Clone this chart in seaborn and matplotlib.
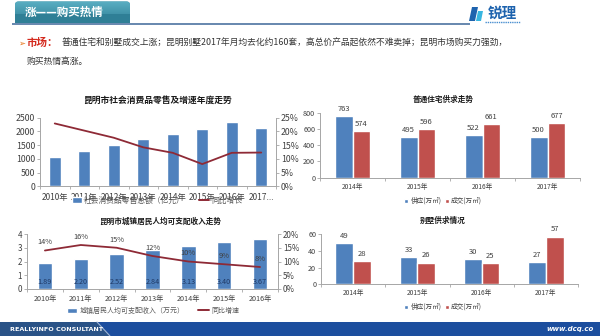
import numpy as np
import pandas as pd
import matplotlib
matplotlib.use("Agg")
import matplotlib.pyplot as plt
from matplotlib.patches import Rectangle, Polygon, FancyBboxPatch, Patch
from matplotlib.lines import Line2D
from matplotlib.ticker import FuncFormatter, FixedLocator
import seaborn as sns

sns.set_theme(style="white")
plt.rcParams['font.family'] = ['Noto Sans CJK SC', 'DejaVu Sans']
plt.rcParams['axes.unicode_minus'] = False

# ---- data ----
retail_years = ["2010年", "2011年", "2012年", "2013年", "2014年", "2015年", "2016年", "2017..."]
retail_total = [1057, 1275, 1494, 1713, 1917, 2077, 2332, 2114]      # 亿元
retail_growth = [22.9, 20.3, 17.7, 14.2, 12.2, 8.1, 12.2, 12.3]      # %

income_years = ["2010年", "2011年", "2012年", "2013年", "2014年", "2015年", "2016年"]
income_values = [1.89, 2.20, 2.52, 2.84, 3.13, 3.40, 3.67]          # 万元
income_growth = [14, 16, 15, 12, 10, 9, 8]                          # %

supply_years = ["2014年", "2015年", "2016年", "2017年"]
house_supply = [763, 495, 522, 500]
house_deal = [574, 596, 661, 677]
villa_supply = [49, 33, 30, 27]
villa_deal = [28, 26, 25, 57]
series_names = ["供应(万㎡)", "成交(万㎡)"]

BLUE = "#4F81BD"
RED = "#C0504D"
LINE = "#8E2A36"
SPINE = "#A6A6A6"
TICK = "#404040"

W, H = 600, 336
fig = plt.figure(figsize=(6, 3.36), dpi=100)
fig.patch.set_facecolor("white")


def axes_px(x0, y0, x1, y1, **kw):
    return fig.add_axes([x0 / W, 1 - y1 / H, (x1 - x0) / W, (y1 - y0) / H], **kw)


# ---- slide decoration layer (pixel coordinates) ----
deco = axes_px(0, 0, W, H, zorder=0)
deco.set_xlim(0, W)
deco.set_ylim(H, 0)
deco.axis("off")

# header tab with a soft vertical gradient
tab = FancyBboxPatch((15, 1.5), 115, 21.5, boxstyle="round,pad=0,rounding_size=3.5",
                     facecolor="#3A8CA2", edgecolor="none")
deco.add_patch(tab)
grad = np.linspace(0, 1, 64).reshape(-1, 1)
img = deco.imshow(grad, extent=(15, 130, 23, 1.5), cmap=matplotlib.colors.LinearSegmentedColormap.from_list(
    "tab", ["#5AAFC3", "#2F7F96"]), aspect="auto", zorder=1)
img.set_clip_path(tab)
deco.add_patch(Rectangle((15, 14), 115, 9, facecolor="#2F7F96", edgecolor="none", zorder=1))
deco.text(64, 12.5, "涨——购买热情", color="white", fontsize=8.3, fontweight="bold",
          ha="center", va="center", zorder=2)
deco.plot([12, 470], [24, 24], color="#5B7EA8", lw=1.3, solid_capstyle="butt", zorder=2)

# logo
deco.add_patch(Polygon([(472, 7), (478, 7), (475, 21), (469, 21)], closed=True,
                       facecolor="#1E63AE", edgecolor="none"))
deco.add_patch(Polygon([(478, 11), (483, 11), (481, 21), (476, 21)], closed=True,
                       facecolor="#38B6E0", edgecolor="none"))
deco.text(502, 12.5, "锐理", color="#1E63AE", fontsize=10.5, fontweight="bold",
          ha="center", va="center")
deco.plot([485, 520], [21.5, 21.5], color="#4A8FD0", lw=1.0, ls=(0, (1, 0.6)))

# intro text
deco.text(18, 43, "➢", color="#E46C0A", fontsize=6, ha="left", va="center")
deco.text(27, 43, "市场：", color="#D42A1E", fontsize=7.6, fontweight="bold", ha="left", va="center")
deco.text(62, 43, "普通住宅和别墅成交上涨；昆明别墅2017年月均去化约160套，高总价产品起依然不难卖掉；昆明市场购买力强劲，",
          color="#333333", fontsize=6.35, ha="left", va="center")
deco.text(27, 61, "购买热情高涨。", color="#333333", fontsize=6.35, ha="left", va="center")

# footer band
deco.add_patch(Rectangle((0, 322), W, 14, facecolor="#1C4E9E", edgecolor="none"))
deco.add_patch(Polygon([(0, 322), (97, 322), (110, 336), (0, 336)], closed=True,
                       facecolor="#2A5387", edgecolor="none"))
deco.plot([97, 110], [322, 336], color="#9DB3D3", lw=0.8)
deco.text(10, 329.5, "REALLYINFO CONSULTANT", color="white", fontsize=4.6, fontweight="bold",
          ha="left", va="center", family="DejaVu Sans")
deco.text(594, 329.5, "www.dcq.co", color="white", fontsize=5, fontweight="bold", style="italic",
          ha="right", va="center", family="DejaVu Sans")


def style_axes(ax, n, ylab_size, xlab_size, xpad, right=False):
    for s in ["top"]:
        ax.spines[s].set_visible(False)
    ax.spines["right"].set_visible(right)
    for s in ["left", "bottom", "right"]:
        ax.spines[s].set_color(SPINE)
        ax.spines[s].set_linewidth(0.7)
    ax.set_xlim(-0.5, n - 0.5)
    ax.xaxis.set_minor_locator(FixedLocator(np.arange(n + 1) - 0.5))
    ax.tick_params(axis="x", which="major", length=0, pad=xpad, labelsize=xlab_size, labelcolor=TICK)
    ax.tick_params(axis="x", which="minor", length=2.5, width=0.6, color=SPINE, direction="out", bottom=True)
    ax.tick_params(axis="y", which="major", length=2.5, width=0.6, color=SPINE, direction="out",
                   left=True, pad=1, labelsize=ylab_size, labelcolor=TICK)
    ax.set_xlabel("")
    ax.set_ylabel("")
    ax.set_facecolor("none")


def style_twin(ax2, lab_size):
    for s in ["top", "left", "bottom"]:
        ax2.spines[s].set_visible(False)
    ax2.spines["right"].set_color(SPINE)
    ax2.spines["right"].set_linewidth(0.7)
    ax2.tick_params(axis="y", length=2.5, width=0.6, color=SPINE, direction="out", right=True,
                    pad=1, labelsize=lab_size, labelcolor=TICK)
    ax2.yaxis.set_major_formatter(FuncFormatter(lambda v, p: f"{v:.0f}%"))
    ax2.set_xlabel("")
    ax2.set_ylabel("")
    ax2.grid(False)


# ---- chart 1: retail sales ----
fig.text(158 / W, 1 - 100 / H, "昆明市社会消费品零售及增速年度走势", fontsize=6.3, fontweight="bold",
         ha="center", va="center", color="#1A1A1A")
ax1 = axes_px(40, 117.7, 276, 186.3)
sns.barplot(x=retail_years, y=retail_total, color=BLUE, saturation=1, width=0.4, ax=ax1)
ax1.set_ylim(0, 2500)
ax1.set_yticks(np.arange(0, 2501, 500))
style_axes(ax1, len(retail_years), 6.3, 6, 4.5, right=False)
ax1b = ax1.twinx()
sns.lineplot(x=np.arange(len(retail_growth)), y=retail_growth, color=LINE, lw=1.3, ax=ax1b)
ax1b.set_ylim(0, 25)
ax1b.set_yticks(np.arange(0, 26, 5))
style_twin(ax1b, 6.3)
ax1.set_xlim(-0.5, len(retail_years) - 0.5)
leg1 = ax1b.legend([Patch(facecolor=BLUE), Line2D([], [], color=LINE, lw=1.4)],
                   ["社会消费品零售总额（亿元）", "同比增长"], loc="center",
                   bbox_to_anchor=(157 / W, 1 - 200.5 / H), bbox_transform=fig.transFigure,
                   ncol=2, frameon=False, fontsize=5.6, handlelength=1.3, handleheight=0.8,
                   handletextpad=0.3, columnspacing=1.8, labelcolor="#595959")

# ---- chart 2: disposable income ----
fig.text(160 / W, 1 - 221 / H, "昆明市城镇居民人均可支配收入走势", fontsize=5.5, fontweight="bold",
         ha="center", va="center", color="#1A1A1A")
ax2 = axes_px(27, 234, 278, 289)
sns.barplot(x=income_years, y=income_values, color=BLUE, saturation=1, width=0.4, ax=ax2)
ax2.set_ylim(0, 4)
ax2.set_yticks(np.arange(0, 5, 1))
style_axes(ax2, len(income_years), 5.8, 5.2, 4.5, right=False)
for i, v in enumerate(income_values):
    ax2.annotate(f"{v:.2f}", (i, 0), xytext=(0, 2.2), textcoords="offset points",
                 ha="center", va="bottom", fontsize=5.2, color="#1F3864")
ax2b = ax2.twinx()
sns.lineplot(x=np.arange(len(income_growth)), y=income_growth, color=LINE, lw=1.3, ax=ax2b)
ax2b.set_ylim(0, 20)
ax2b.set_yticks(np.arange(0, 21, 5))
style_twin(ax2b, 5.8)
for i, g in enumerate(income_growth):
    ax2b.annotate(f"{g}%", (i, g), xytext=(0, 3), textcoords="offset points",
                  ha="center", va="bottom", fontsize=5.4, color="#404040")
ax2.set_xlim(-0.5, len(income_years) - 0.5)
ax2b.legend([Patch(facecolor=BLUE), Line2D([], [], color=LINE, lw=1.4)],
            ["城镇居民人均可支配收入（万元）", "同比增速"], loc="center",
            bbox_to_anchor=(153 / W, 1 - 311 / H), bbox_transform=fig.transFigure,
            ncol=2, frameon=False, fontsize=5.0, handlelength=1.5, handleheight=0.8,
            handletextpad=0.3, columnspacing=2.0, labelcolor="#595959")


# ---- charts 3 & 4: supply vs transactions ----
def supply_chart(box, title, title_y, supply, deal, ymax, ystep, legend_y):
    fig.text(443 / W, 1 - title_y / H, title, fontsize=5.5, fontweight="bold",
             ha="center", va="center", color="#1A1A1A")
    ax = axes_px(*box)
    df = pd.DataFrame({
        "year": supply_years * 2,
        "kind": [series_names[0]] * len(supply) + [series_names[1]] * len(deal),
        "value": list(supply) + list(deal),
    })
    sns.barplot(data=df, x="year", y="value", hue="kind", palette=[BLUE, RED],
                saturation=1, width=0.55, errorbar=None, ax=ax)
    ax.set_ylim(0, ymax)
    ax.set_yticks(np.arange(0, ymax + 1, ystep))
    style_axes(ax, len(supply_years), 5.2, 4.8, 3.5, right=False)
    for c in ax.containers:
        ax.bar_label(c, fmt="%d", padding=2.2, fontsize=5.5, color="#404040")
    sns.move_legend(ax, "center", bbox_to_anchor=(443 / W, 1 - legend_y / H),
                    bbox_transform=fig.transFigure, ncol=2, frameon=False, title=None,
                    fontsize=4.8, handlelength=0.6, handleheight=0.6, handletextpad=0.3,
                    columnspacing=0.5, labelcolor="#404040")
    return ax


supply_chart((320, 112.7, 580, 177.7), "普通住宅供求走势", 99.5, house_supply, house_deal, 800, 200, 201)
supply_chart((321, 234, 578, 284.3), "别墅供求情况", 220, villa_supply, villa_deal, 60, 20, 307)

fig.savefig("out.png", dpi=100, facecolor="white")
